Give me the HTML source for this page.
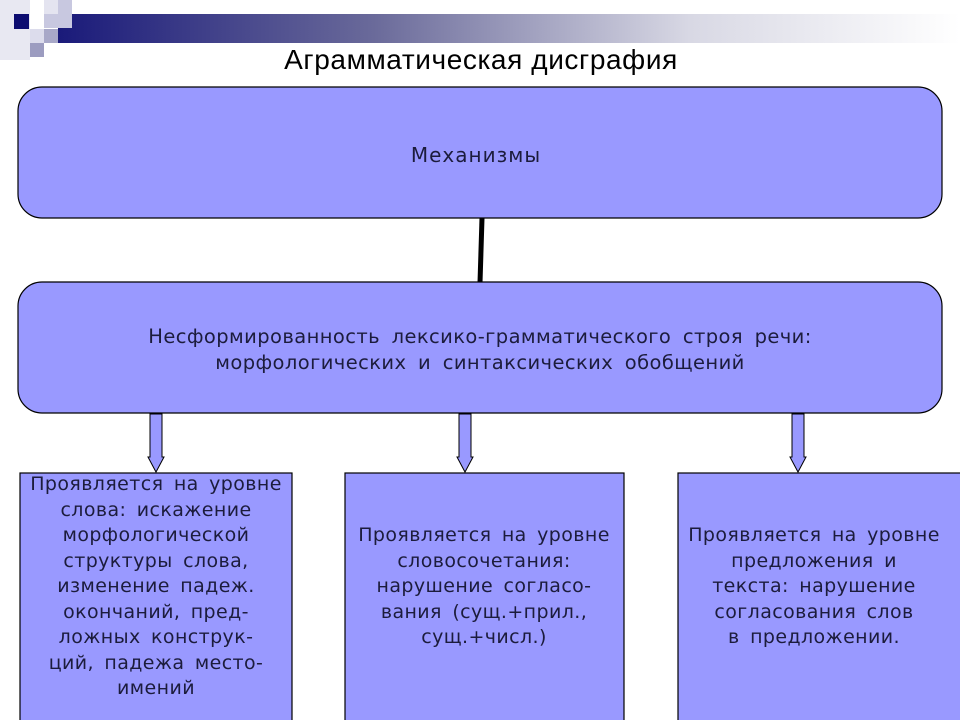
<!DOCTYPE html>
<html><head><meta charset="utf-8"><style>
html,body{margin:0;padding:0;background:#fff;}
svg{display:block;}
text{font-family:"DejaVu Sans","Liberation Sans",sans-serif;fill:#1c1c3c;}
</style></head><body>
<svg width="960" height="720" viewBox="0 0 960 720" xmlns="http://www.w3.org/2000/svg">
<defs>
<linearGradient id="g" x1="0" x2="1" y1="0" y2="0">
<stop offset="0" stop-color="#1a1a7a"/>
<stop offset="0.35" stop-color="#6a6a9a"/>
<stop offset="0.7" stop-color="#d8d8e4"/>
<stop offset="1" stop-color="#ffffff"/>
</linearGradient>
</defs>
<rect x="0" y="0" width="30" height="60" fill="#e8e8f2"/>
<rect x="58" y="14" width="902" height="29" fill="url(#g)"/>
<rect x="44" y="0" width="28" height="14" fill="#e4e4f0"/>
<rect x="58" y="0" width="14" height="28" fill="#c8c8e0"/>
<rect x="44" y="14" width="14" height="14" fill="#c8c8e0"/>
<rect x="14" y="14" width="15" height="15" fill="#0c0c70"/>
<rect x="30" y="29" width="14" height="14" fill="#dcdcec"/>
<rect x="44" y="29" width="14" height="14" fill="#a8a8c8"/>
<rect x="30" y="43" width="14" height="14" fill="#9c9cc0"/>
<text x="481" y="69" text-anchor="middle" style="font-family:'Liberation Sans',sans-serif;fill:#000;letter-spacing:0.6px" font-size="28">Аграмматическая дисграфия</text>

<rect x="18" y="87" width="924" height="131" rx="24" fill="#9999ff" stroke="#000" stroke-width="1.2"/>
<text x="476" y="162" text-anchor="middle" font-size="20" style="letter-spacing:1px">Механизмы</text>
<line x1="482" y1="218" x2="480" y2="283" stroke="#000" stroke-width="5"/>
<rect x="18" y="282" width="924" height="131" rx="24" fill="#9999ff" stroke="#000" stroke-width="1.2"/>
<text x="480" y="343" text-anchor="middle" font-size="19.5" style="word-spacing:5px;letter-spacing:0.4px">Несформированность лексико-грамматического строя речи:</text>
<text x="480" y="369" text-anchor="middle" font-size="19.5" style="word-spacing:5px;letter-spacing:0.4px">морфологических и синтаксических обобщений</text>

<g fill="#9999ff" stroke="#000" stroke-width="1">
<path d="M150 414 H162 V457 H164 L156 472 L148 457 H150 Z"/>
<path d="M459 414 H471 V457 H473 L465 472 L457 457 H459 Z"/>
<path d="M792 414 H804 V457 H806 L798 472 L790 457 H792 Z"/>
</g>

<rect x="20" y="473" width="272" height="260" fill="#9999ff" stroke="#000" stroke-width="1.2"/>
<rect x="345" y="473" width="279" height="260" fill="#9999ff" stroke="#000" stroke-width="1.2"/>
<rect x="678" y="473" width="290" height="260" fill="#9999ff" stroke="#000" stroke-width="1.2"/>

<g font-size="19" text-anchor="middle" style="word-spacing:4px;letter-spacing:0.4px">
<text x="156" y="490">Проявляется на уровне</text>
<text x="156" y="516">слова: искажение</text>
<text x="156" y="541">морфологической</text>
<text x="156" y="567">структуры слова,</text>
<text x="156" y="592">изменение падеж.</text>
<text x="156" y="618">окончаний, пред-</text>
<text x="156" y="643">ложных конструк-</text>
<text x="156" y="669">ций, падежа место-</text>
<text x="156" y="694">имений</text>

<text x="484" y="541">Проявляется на уровне</text>
<text x="484" y="567">словосочетания:</text>
<text x="484" y="592">нарушение согласо-</text>
<text x="484" y="618">вания (сущ.+прил.,</text>
<text x="484" y="643">сущ.+числ.)</text>

<text x="814" y="541">Проявляется на уровне</text>
<text x="814" y="567">предложения и</text>
<text x="814" y="592">текста: нарушение</text>
<text x="814" y="618">согласования слов</text>
<text x="814" y="643">в предложении.</text>
</g>
</svg>
</body></html>
